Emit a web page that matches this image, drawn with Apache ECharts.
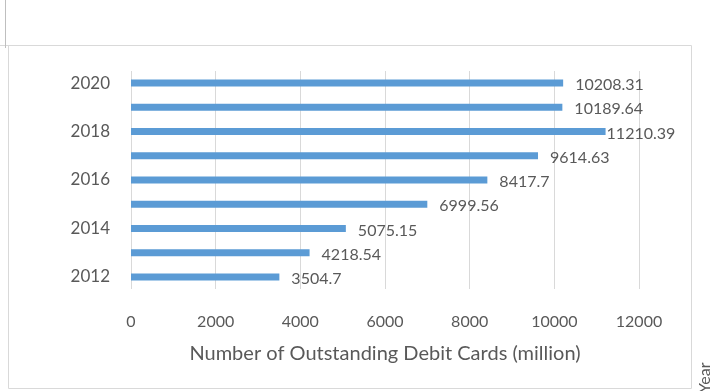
<!DOCTYPE html>
<html>
<head>
<meta charset="utf-8">
<script src="https://cdn.jsdelivr.net/npm/echarts@6/dist/echarts.min.js"></script>
<style>
  html, body { margin: 0; padding: 0; background: #fff; }
  #chart { width: 713px; height: 391px; }
</style>
</head>
<body>
<div id="chart"></div>
<script>
// Outstanding debit cards per year, in millions
const years = ['2012', '2013', '2014', '2015', '2016', '2017', '2018', '2019', '2020'];
const cards = [3504.7, 4218.54, 5075.15, 6999.56, 8417.7, 9614.63, 11210.39, 10189.64, 10208.31];
const xTicks = [0, 2000, 4000, 6000, 8000, 10000, 12000];

const FONT = 'Lato, "Open Sans", sans-serif';
const TEXT = '#595959';
const LINE = '#d9d9d9';

const chart = echarts.init(document.getElementById('chart'), null, { renderer: 'canvas' });

// The longest bar reaches the plot edge, so its label sits tight against the bar
const maxVal = Math.max(...cards);
const barData = cards.map(v => v === maxVal ? { value: v, label: { distance: 1 } } : v);

chart.setOption({
  animation: false,
  grid: { left: 131, right: 74, top: 71, bottom: 102, containLabel: false },
  xAxis: {
    type: 'value',
    min: xTicks[0],
    max: xTicks[xTicks.length - 1],
    interval: xTicks[1] - xTicks[0],
    axisLine: { show: false },
    axisTick: { show: false },
    splitLine: { show: true, lineStyle: { color: LINE, width: 1 } },
    axisLabel: { color: TEXT, fontFamily: FONT, fontSize: 16, margin: 25, formatter: v => String(v) },
    name: 'Number of Outstanding Debit Cards (million)',
    nameLocation: 'middle',
    nameGap: 55,
    nameTextStyle: { color: TEXT, fontFamily: FONT, fontSize: 20 }
  },
  yAxis: {
    type: 'category',
    data: years,
    axisLine: { show: false },
    axisTick: { show: false },
    axisLabel: { color: TEXT, fontFamily: FONT, fontSize: 17, margin: 21, interval: 1 }
  },
  series: [{
    type: 'bar',
    data: barData,
    barWidth: 7,
    itemStyle: { color: '#5B9BD5' },
    label: {
      show: true,
      position: 'right',
      distance: 12,
      offset: [0, 2],
      color: TEXT,
      fontFamily: FONT,
      fontSize: 16
    }
  }],
  graphic: [
    { type: 'rect', shape: { x: 8.5, y: 45.5, width: 683, height: 343 },
      style: { fill: 'none', stroke: LINE, lineWidth: 1 } },
    { type: 'line', shape: { x1: 0, y1: 45.5, x2: 9, y2: 45.5 },
      style: { stroke: LINE, lineWidth: 1 } },
    { type: 'line', shape: { x1: 5.5, y1: 0, x2: 5.5, y2: 48 },
      style: { stroke: '#bfbfbf', lineWidth: 1 } },
    { type: 'text', x: 697, y: 393, rotation: Math.PI / 2,
      style: { text: 'Year', fill: TEXT, font: '16px ' + FONT, textAlign: 'left', textVerticalAlign: 'top' } }
  ]
});
</script>
</body>
</html>
